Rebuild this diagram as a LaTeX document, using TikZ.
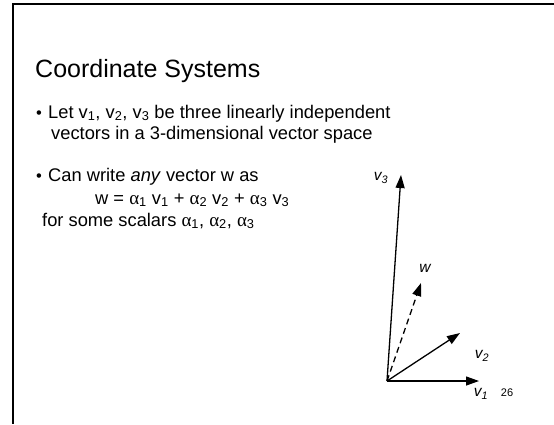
\documentclass[tikz,border=0pt]{standalone}
\usepackage{fontspec}
\setmainfont{Liberation Sans}
\newfontfamily\greekfont{Liberation Serif}
\usetikzlibrary{arrows.meta}
\newcommand\sbs[1]{\textsubscript{#1}}
\newcommand\al{{\greekfont\fontsize{19}{22}\selectfont\char"03B1}}
\begin{document}
\begin{tikzpicture}[x=1pt,y=-1pt,
  txt/.style={anchor=base west, inner sep=0pt, font=\fontsize{18.3}{22}\selectfont},
  bul/.style={anchor=base west, inner sep=0pt, font=\fontsize{16.5}{18}\selectfont},
  vec/.style={line width=1.3pt, -{Triangle[length=13pt,width=9pt]}},
  vecd/.style={vec, dashed, dash pattern=on 6pt off 4pt},
  lbl/.style={inner sep=0pt, font=\fontsize{15.5}{17}\selectfont\itshape}]
\useasboundingbox (0,0) rectangle (554,424);
\draw[line width=2.2pt] (554,4) -| (13,424);
\node[anchor=base west, inner sep=0pt, font=\fontsize{25}{30}\selectfont] (title) at (35,77) {Coordinate Systems};
\node[bul] (bul1) at (36,118.5) {•};
\node[txt] (l1) at (48,118) {Let v\sbs{1}, v\sbs{2}, v\sbs{3} be three linearly independent};
\node[txt] (l2) at (51,139) {vectors in a 3-dimensional vector space};
\node[bul] (bul2) at (36,181.5) {•};
\node[txt] (l3) at (48,181) {Can write \textit{any} vector w as};
\node[txt] (l4) at (95,204) {w = \al\sbs{1} v\sbs{1} + \al\sbs{2} v\sbs{2} + \al\sbs{3} v\sbs{3}};
\node[txt] (l5) at (42,226) {for some scalars \al\sbs{1}, \al\sbs{2}, \al\sbs{3}};
\coordinate (o) at (387,381);
\coordinate (t1) at (479,381);
\coordinate (t2) at (460,333);
\coordinate (tw) at (421,283);
\coordinate (t3) at (401,175);
\draw[vec] (o) -- (t1);
\draw[vec] (o) -- (t2);
\draw[vecd] (o) -- (tw);
\draw[vec] (o) -- (t3);
\node[lbl] (lv1) at (481,394) {v\sbs{1}};
\node[lbl] (lv2) at (482,356) {v\sbs{2}};
\node[lbl] (lw) at (425,268) {w};
\node[lbl] (lv3) at (381,178) {v\sbs{3}};
\node[inner sep=0pt, font=\fontsize{11}{13}\selectfont] (pg) at (507,393) {26};
\end{tikzpicture}
\end{document}
